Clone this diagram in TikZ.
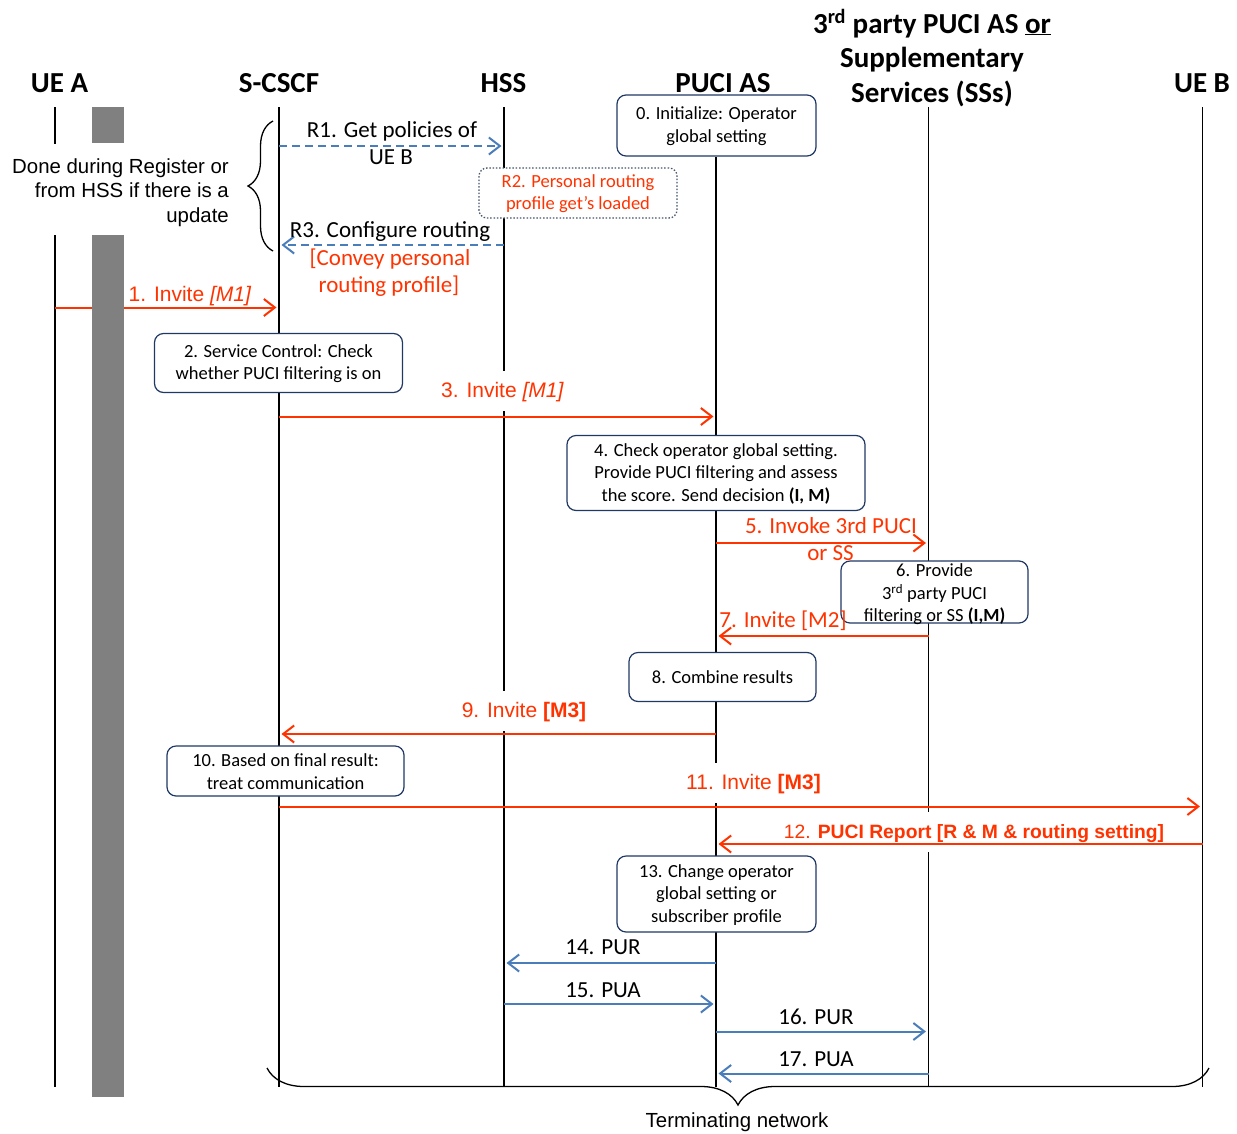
\documentclass[tikz,border=0pt]{standalone}
\usepackage{fontspec}
\setmainfont{Carlito}
\newfontfamily\arialfont{Liberation Sans}
\usetikzlibrary{arrows.meta,decorations.pathreplacing}

\definecolor{msgred}{HTML}{FF3300}
\definecolor{msgblue}{HTML}{4A7EBB}
\definecolor{boxnavy}{HTML}{203864}
\definecolor{dotgray}{HTML}{44546A}
\definecolor{barfill}{HTML}{808080}

\newcommand\headfont{\fontsize{29}{34.5}\selectfont\bfseries}
\newcommand\stepfont{\fontsize{18.5}{22.5}\selectfont}
\newcommand\msgfont{\fontsize{23}{28}\selectfont}
\newcommand\invfont{\arialfont\fontsize{21}{25}\selectfont}
\newcommand\notefont{\arialfont\fontsize{20.4}{24.5}\selectfont}

\tikzset{
  lifeline/.style={line width=1.4pt, black},
  tip/.style={-{Straight Barb[length=11pt,width=17pt]}, shorten >=2.5pt},
  redmsg/.style={draw=msgred, line width=2pt, tip},
  bluemsg/.style={draw=msgblue, line width=2pt, tip},
  bluedash/.style={bluemsg, dash pattern=on 8pt off 5pt},
  stepbox/.style={draw=boxnavy, line width=1.2pt, rounded corners=9pt, fill=white,
    align=center, font=\stepfont, inner sep=0pt},
  dotbox/.style={draw=dotgray, line width=1.3pt, dash pattern=on 1.5pt off 1.8pt,
    rounded corners=8pt, fill=white, align=center, font=\stepfont, text=msgred, inner sep=0pt},
  lbl/.style={anchor=base, inner sep=0pt, font=\msgfont},
  redlbl/.style={lbl, text=msgred},
  invlbl/.style={anchor=base, font=\invfont, text=msgred, inner sep=0pt},
  invmask/.style={invlbl, fill=white, text height=22pt, text depth=10pt, inner xsep=4pt, inner ysep=4pt},
  head/.style={anchor=base, font=\headfont, inner sep=0pt},
  note/.style={anchor=base east, font=\notefont, inner sep=0pt},
  brace/.style={decorate, line width=1.3pt},
}

\begin{document}
\begin{tikzpicture}[x=1pt,y=-1pt]
\useasboundingbox (0,0) rectangle (1237,1133);

% lifeline heads and foot
\coordinate (uea) at (55,107);
\coordinate (sc) at (279,107);
\coordinate (hss) at (504,107);
\coordinate (puci) at (716,157);
\coordinate (trd) at (928.5,107);
\coordinate (ueb) at (1202.5,107);
\coordinate (bot) at (0,1087);

% message levels
\coordinate (yR1) at (0,146);
\coordinate (yR3) at (0,245);
\coordinate (y1) at (0,307.5);
\coordinate (y3) at (0,416.5);
\coordinate (y5) at (0,543);
\coordinate (y7) at (0,636);
\coordinate (y9) at (0,734);
\coordinate (y11) at (0,806.5);
\coordinate (y12) at (0,844);
\coordinate (y14) at (0,963);
\coordinate (y15) at (0,1004);
\coordinate (y16) at (0,1031.5);
\coordinate (y17) at (0,1073.5);

% lifelines
\draw[lifeline] (uea) -- (55,144);
\draw[lifeline] (55,235) -- (uea |- bot);
\draw[lifeline] (sc) -- (sc |- bot);
\draw[lifeline] (hss) -- (hss |- bot);
\draw[lifeline] (puci) -- (puci |- bot);
\draw[lifeline] (trd) -- (trd |- bot);
\draw[lifeline] (ueb) -- (ueb |- bot);

% labels that mask the lifelines behind them
\node[invmask] (l3) at (502.5,397) {3. Invite \textit{[M1]}};
\node[invmask] (l9) at (524,717) {9. Invite \textbf{[M3]}};
\node[invmask] (l11) at (753.5,789) {11. Invite \textbf{[M3]}};
\node[invmask, font=\arialfont\fontsize{19.3}{24}\selectfont] (l12) at (974,838)
  {12. \textbf{PUCI Report [R \& M \& routing setting]}};

% messages
\draw[bluedash] (sc |- yR1) -- (hss |- yR1);
\draw[bluedash] (hss |- yR3) -- (sc |- yR3);
\draw[redmsg] (uea |- y1) -- (sc |- y1);
\draw[redmsg] (sc |- y3) -- (puci |- y3);
\draw[redmsg] (puci |- y5) -- (trd |- y5);
\draw[redmsg] (trd |- y7) -- (puci |- y7);
\draw[redmsg] (puci |- y9) -- (sc |- y9);
\draw[redmsg] (sc |- y11) -- (ueb |- y11);
\draw[redmsg] (ueb |- y12) -- (puci |- y12);
\draw[bluemsg] (puci |- y14) -- (hss |- y14);
\draw[bluemsg] (hss |- y15) -- (puci |- y15);
\draw[bluemsg] (puci |- y16) -- (trd |- y16);
\draw[bluemsg] (trd |- y17) -- (puci |- y17);

% activation bar of UE A
\fill[barfill] (92,107) rectangle (124,143);
\fill[barfill] (92,235) rectangle (124,1097);

% processing steps
\node[stepbox, minimum width=199pt, minimum height=61pt] (b0) at (716.5,125.5)
  {\rule{0pt}{14pt}0. Initialize: Operator\\global setting};
\node[dotbox, minimum width=198pt, minimum height=50pt] (r2) at (578,193)
  {\rule{0pt}{14pt}R2. Personal routing\\profile get’s loaded};
\node[stepbox, minimum width=248pt, minimum height=59pt] (b2) at (278.5,363)
  {\rule{0pt}{14pt}2. Service Control: Check\\whether PUCI filtering is on};
\node[stepbox, minimum width=298pt, minimum height=75pt] (b4) at (716,473)
  {\rule{0pt}{14pt}4. Check operator global setting.\\Provide PUCI filtering and assess\\the score. Send decision \textbf{(I, M)}};
\node[stepbox, minimum width=187pt, minimum height=62pt] (b6) at (934.5,592) {};
\node[align=center, font=\stepfont, inner sep=0pt] (t6) at (934.5,594.5)
  {6. Provide\\3\textsuperscript{rd} party PUCI\\filtering or SS \textbf{(I,M)}};
\node[stepbox, minimum width=187pt, minimum height=49pt] (b8) at (722.5,677)
  {8. Combine results};
\node[stepbox, minimum width=237pt, minimum height=50pt] (b10) at (285.5,771)
  {\rule{0pt}{14pt}10. Based on final result:\\treat communication};
\node[stepbox, minimum width=199pt, minimum height=76pt] (b13) at (716.5,894)
  {\rule{0pt}{14pt}13. Change operator\\global setting or\\subscriber profile};

% message labels
\node[lbl] (lR1a) at (392,137) {R1. Get policies of};
\node[lbl] (lR1b) at (391,164) {UE B};
\node[lbl] (lR3a) at (390,237) {R3. Configure routing};
\node[redlbl] (lR3b) at (390,265) {[Convey personal};
\node[redlbl] (lR3c) at (389,292) {routing profile]};
\node[invlbl] (l1) at (190,301) {1. Invite \textit{[M1]}};
\node[redlbl] (l5a) at (831,533) {5. Invoke 3rd PUCI};
\node[redlbl] (l5b) at (830.5,560) {or SS};
\node[redlbl] (l7) at (783,627) {7. Invite [M2]};
\node[lbl] (l14) at (603,954) {14. PUR};
\node[lbl] (l15) at (603,997) {15. PUA};
\node[lbl] (l16) at (816,1024) {16. PUR};
\node[lbl] (l17) at (816,1066) {17. PUA};

% registration note and its brace
\node[note] (n1) at (229,173) {Done during Register or};
\node[note] (n2) at (229,197) {from HSS if there is a};
\node[note] (n3) at (229,222) {update};
\draw[brace, decoration={brace, amplitude=25pt}] (273,251) -- (273,121);

% terminating network brace
\draw[brace, decoration={brace, mirror, amplitude=37pt}] (267,1068) -- (1209,1068);
\node[anchor=base, font=\notefont, inner sep=0pt] (tn) at (737,1127) {Terminating network};

% participants
\node[head] (hUEA) at (59.5,92) {UE A};
\node[head] (hSC) at (279,92) {S-CSCF};
\node[head] (hHSS) at (503.5,92) {HSS};
\node[head] (hPUCI) at (723,92) {PUCI AS};
\node[head] (h3a) at (932,33) {3\textsuperscript{rd} party PUCI AS \underline{or}};
\node[head] (h3b) at (932,67.5) {Supplementary};
\node[head] (h3c) at (932,102) {Services (SSs)};
\node[head] (hUEB) at (1202,92) {UE B};
\end{tikzpicture}
\end{document}
